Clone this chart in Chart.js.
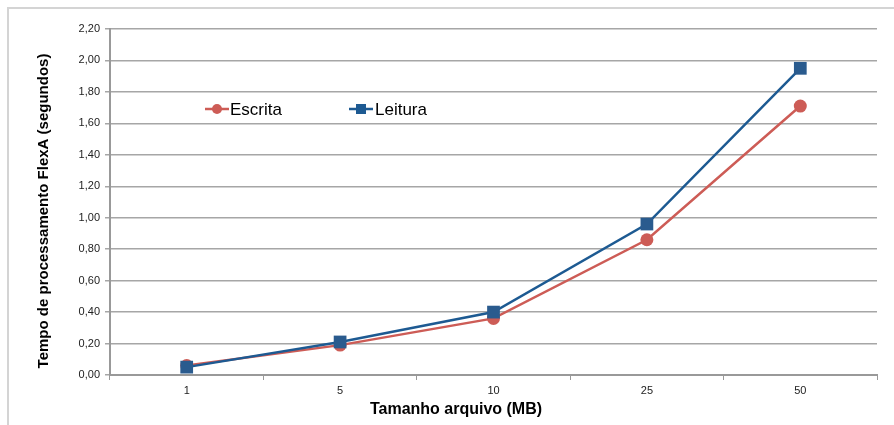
<!DOCTYPE html>
<html>
<head>
<meta charset="utf-8">
<script src="https://cdn.jsdelivr.net/npm/chart.js@4"></script>
<style>
  html, body { margin: 0; padding: 0; background: #fff; }
  #wrap { position: relative; width: 894px; height: 425px; }
</style>
</head>
<body>
<div id="wrap"><canvas id="grafico" width="894" height="425"></canvas></div>
<script>
var categorias = ["1", "5", "10", "25", "50"];
var escrita = [0.06, 0.19, 0.36, 0.86, 1.71];
var leitura = [0.05, 0.21, 0.40, 0.96, 1.95];
var yTicks = [0, 0.2, 0.4, 0.6, 0.8, 1.0, 1.2, 1.4, 1.6, 1.8, 2.0, 2.2];

var corEscrita = "#cd5c56";
var corLeitura = "#1d5a92";

var moldura = {
  id: "moldura",
  beforeDraw: function (chart) {
    var c = chart.ctx;
    c.save();
    c.strokeStyle = "#d4d4d4";
    c.lineWidth = 2;
    c.beginPath();
    c.moveTo(8, 425);
    c.lineTo(8, 8);
    c.lineTo(894, 8);
    c.stroke();
    c.restore();
  },
  afterDraw: function (chart) {
    var c = chart.ctx;
    c.save();
    c.fillStyle = "#000";
    // titulo eixo y
    c.font = "bold 15px Arial, 'Liberation Sans', sans-serif";
    c.textAlign = "center";
    c.textBaseline = "middle";
    c.translate(44, 211);
    c.rotate(-Math.PI / 2);
    c.fillText("Tempo de processamento FlexA (segundos)", 0, 0);
    c.restore();

    c.save();
    c.fillStyle = "#000";
    c.font = "bold 16px Arial, 'Liberation Sans', sans-serif";
    c.textAlign = "center";
    c.textBaseline = "middle";
    c.fillText("Tamanho arquivo (MB)", 456, 410);

    // legenda
    c.font = "17px Arial, 'Liberation Sans', sans-serif";
    c.textAlign = "left";
    var ly = 109;
    c.lineWidth = 2.5;
    c.strokeStyle = corEscrita;
    c.beginPath(); c.moveTo(205, ly); c.lineTo(229, ly); c.stroke();
    c.fillStyle = corEscrita;
    c.beginPath(); c.arc(217, ly, 5, 0, Math.PI * 2); c.fill();
    c.fillStyle = "#000";
    c.fillText("Escrita", 230, ly + 1);

    c.strokeStyle = corLeitura;
    c.beginPath(); c.moveTo(349, ly); c.lineTo(373, ly); c.stroke();
    c.fillStyle = corLeitura;
    c.fillRect(356, ly - 5, 10, 10);
    c.fillStyle = "#000";
    c.fillText("Leitura", 375, ly + 1);
    c.restore();
  }
};

new Chart(document.getElementById("grafico"), {
  type: "line",
  data: {
    labels: categorias,
    datasets: [
      {
        label: "Escrita",
        data: escrita,
        order: 1,
        borderColor: corEscrita,
        backgroundColor: corEscrita,
        borderWidth: 2.5,
        pointStyle: "circle",
        pointRadius: 6.5,
        pointBorderWidth: 0,
        tension: 0
      },
      {
        label: "Leitura",
        data: leitura,
        order: 0,
        borderColor: corLeitura,
        backgroundColor: "#2a5b8e",
        borderWidth: 2.5,
        pointStyle: "rect",
        pointRadius: 9,
        pointBorderWidth: 0,
        tension: 0
      }
    ]
  },
  options: {
    responsive: false,
    animation: false,
    layout: { padding: { top: 29, right: 17, left: 0, bottom: 0 } },
    plugins: {
      legend: { display: false },
      tooltip: { enabled: false }
    },
    scales: {
      x: {
        offset: true,
        grid: {
          offset: true,
          drawOnChartArea: false,
          drawTicks: true,
          tickLength: 5,
          color: "#999",
          lineWidth: 1
        },
        border: { color: "#999", width: 2 },
        ticks: {
          color: "#222",
          font: { family: "Arial, 'Liberation Sans', sans-serif", size: 11 },
          padding: 4,
          maxRotation: 0
        },
        afterFit: function (s) { s.height = 50; }
      },
      y: {
        min: 0,
        max: 2.2,
        afterBuildTicks: function (s) {
          s.ticks = yTicks.map(function (v) { return { value: v }; });
        },
        grid: {
          color: "#a6a6a6",
          lineWidth: 1.5,
          tickLength: 5
        },
        border: { color: "#999", width: 2 },
        ticks: {
          color: "#222",
          font: { family: "Arial, 'Liberation Sans', sans-serif", size: 11 },
          padding: 5,
          callback: function (v) { return v.toFixed(2).replace(".", ","); }
        },
        afterFit: function (s) { s.width = 110; }
      }
    }
  },
  plugins: [moldura]
});
</script>
</body>
</html>
